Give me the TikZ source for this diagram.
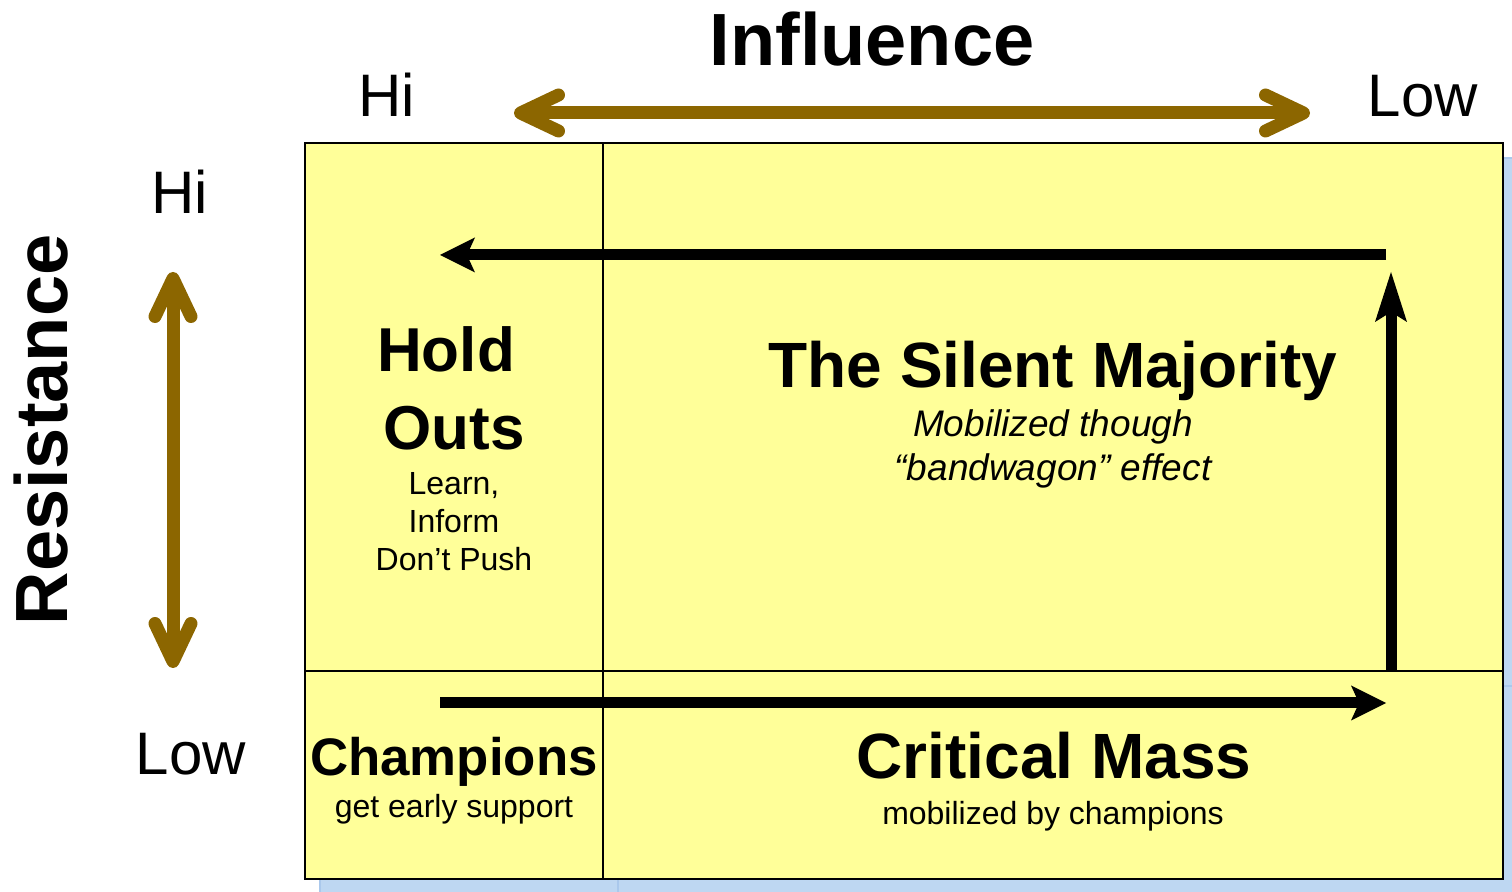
\documentclass[tikz,border=0pt]{standalone}
\usepackage{fontspec}
\setmainfont{Liberation Sans}
\usetikzlibrary{arrows.meta}
\definecolor{cellyellow}{RGB}{255,255,153}
\definecolor{shadowblue}{RGB}{190,215,242}
\definecolor{shadowline}{RGB}{170,200,236}
\definecolor{axisbrown}{RGB}{140,102,0}
\tikzset{
  cell/.style={draw=black,line width=1.3pt,fill=cellyellow},
  shadowcell/.style={draw=shadowline,line width=0.6pt,fill=shadowblue},
  axisarrow/.style={draw=axisbrown,line width=6.5pt,
    {Straight Barb[round,length=19pt,width=18pt]}-{Straight Barb[round,length=19pt,width=18pt]}},
  flowline/.style={draw=black,line width=5.5pt},
  flowhead/.style={-{Stealth[length=17.5pt,width=17.5pt,inset=4pt,line width=0pt]}},
  risehead/.style={-{Stealth[length=25pt,width=16pt,inset=5pt,line width=0pt]}},
  axistitle/.style={anchor=base,inner sep=0pt,font=\fontsize{37}{44}\selectfont\bfseries},
  axislabel/.style={anchor=base,inner sep=0pt,font=\fontsize{30}{36}\selectfont},
  celltitle/.style={anchor=base,inner sep=0pt,align=center,font=\fontsize{31}{39}\selectfont\bfseries},
  cellnote/.style={anchor=base,inner sep=0pt,align=center,font=\fontsize{16}{19}\selectfont}
}
\begin{document}
\begin{tikzpicture}[x=0.5pt,y=-0.5pt]
  \useasboundingbox (0,0) rectangle (1512,892);
  \clip (0,0) rectangle (1512,892);
  \draw[shadowcell] (320,158) rectangle (618,686);
  \draw[shadowcell] (618,158) rectangle (1518,686);
  \draw[shadowcell] (320,686) rectangle (618,894);
  \draw[shadowcell] (618,686) rectangle (1518,894);
  \draw[cell] (305,143) rectangle (603,671);
  \draw[cell] (603,143) rectangle (1503,671);
  \draw[cell] (305,671) rectangle (603,879);
  \draw[cell] (603,671) rectangle (1503,879);
  \node[axistitle] (influence) at (872,66) {Influence};
  \node[axistitle,rotate=90] (resistance) at (68,430) {Resistance};
  \node[axislabel] (hitop) at (387,117) {Hi};
  \node[axislabel] (lowtop) at (1423,117) {Low};
  \node[axislabel] (hileft) at (180,214) {Hi};
  \node[axislabel] (lowleft) at (191,775) {Low};
  \node[celltitle] (holdouts) at (454,450) {Hold\hspace*{8pt}\\Outs};
  \node[cellnote] (holdnote) at (454,571) {Learn,\\Inform\\Don’t Push};
  \node[celltitle,font=\fontsize{32}{39}\selectfont\bfseries] (silent) at (1053,388) {The Silent Majority};
  \node[cellnote,font=\fontsize{18.5}{22}\selectfont\itshape] (silentnote) at (1053,481) {Mobilized though\\“bandwagon” effect};
  \node[celltitle,font=\fontsize{26.4}{32}\selectfont\bfseries] (champions) at (454,776) {Champions};
  \node[cellnote] (championsnote) at (454,818) {get early support};
  \node[celltitle,font=\fontsize{32}{39}\selectfont\bfseries] (mass) at (1054,779) {Critical Mass};
  \node[cellnote] (massnote) at (1053,825) {mobilized by champions};
  \coordinate (infl-hi) at (514,113);
  \coordinate (infl-low) at (1310,113);
  \coordinate (res-hi) at (173,272);
  \coordinate (res-low) at (173,668);
  \coordinate (mass-start) at (440,703);
  \coordinate (mass-end) at (1386,703);
  \coordinate (rise-start) at (1391,671);
  \coordinate (rise-end) at (1391,272);
  \coordinate (silent-start) at (1386,255);
  \coordinate (silent-end) at (440,255);
  \draw[axisarrow] (infl-hi) -- (infl-low);
  \draw[axisarrow] (res-hi) -- (res-low);
  \draw[flowline,flowhead] (mass-start) -- (mass-end);
  \draw[flowline,risehead] (rise-start) -- (rise-end);
  \draw[flowline,flowhead] (silent-start) -- (silent-end);
\end{tikzpicture}
\end{document}
